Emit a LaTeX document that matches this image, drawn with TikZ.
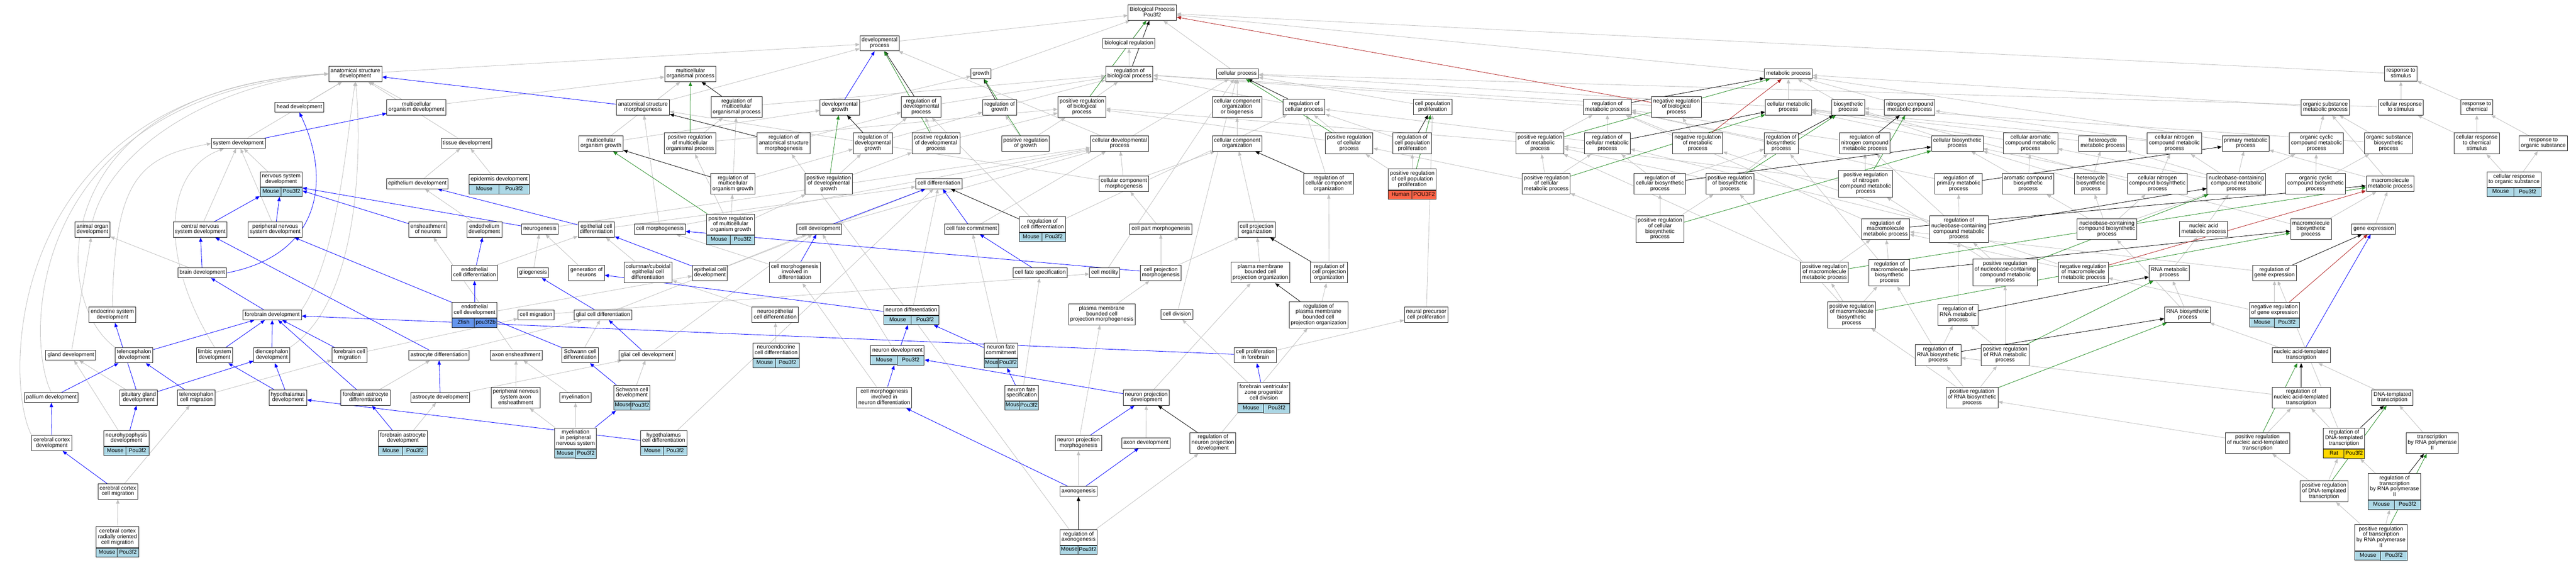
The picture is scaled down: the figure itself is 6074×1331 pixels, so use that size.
\documentclass[tikz,border=0pt]{standalone}
\usepackage{fontspec}
\setmainfont{Liberation Sans}
\usetikzlibrary{arrows.meta,calc,fit,backgrounds}
\definecolor{annmouse}{HTML}{ADD8E6}
\definecolor{annfish}{HTML}{6495ED}
\definecolor{annhuman}{HTML}{FF6347}
\definecolor{annrat}{HTML}{FFD700}
\definecolor{isagray}{HTML}{C0C0C0}
\definecolor{posgreen}{HTML}{228B22}
\definecolor{negred}{HTML}{B22222}
\newcommand{\termfont}{\fontsize{13}{13}\selectfont}
\newcommand{\orgrow}[4]{%
  \path let \p1=(#1t.south west), \p2=(#1t.south east), \n1={0.5*(\x2-\x1)} in
    node[orgbox, fill=#2, minimum width=\n1, anchor=north west] (#1s) at (\p1) {#3}
    node[orgbox, fill=#2, minimum width=\n1, anchor=north east] (#1g) at (\p2) {#4};
  \node[fit=(#1t)(#1s)(#1g), inner sep=0pt] (#1) {};}
\tikzset{
  term/.style={draw=black!85, line width=1.2pt, fill=white, align=center,
    inner xsep=4pt, inner ysep=5pt, font=\termfont,
    execute at begin node=\strut, execute at end node=\strut},
  orgbox/.style={draw=black!85, line width=1.2pt, inner xsep=2pt, inner ysep=4pt,
    font=\termfont, execute at begin node=\strut},
  edge/.style={line width=1pt, -{Triangle[length=10pt,width=8pt]}},
  isa/.style={edge, draw=isagray},
  partof/.style={edge, draw=blue},
  reg/.style={edge, draw=black},
  posreg/.style={edge, draw=posgreen},
  negreg/.style={edge, draw=negred}
}
\begin{document}
\begin{tikzpicture}[x=1pt,y=-1pt]
  \useasboundingbox (0,0) rectangle (6074,1331);
  % row 1
  \node[term] (bp) at (2717,30) {Biological Process\\Pou3f2};
  \node[term] (devproc) at (2074,102) {developmental\\process};
  \node[term] (biolreg) at (2662,102) {biological regulation};
  \node[term] (asd) at (838,174) {anatomical structure\\development};
  \node[term] (mop) at (1628,174) {multicellular\\organismal process};
  \node[term] (growth) at (2313,174) {growth};
  \node[term] (rbp) at (2663,174) {regulation of\\biological process};
  \node[term] (cellproc) at (2918,174) {cellular process};
  \node[term] (metab) at (4217,174) {metabolic process};
  \node[term] (rts) at (5661,174) {response to\\stimulus};
  % row 2
  \node[term] (head) at (706,253) {head development};
  \node[term] (mog) at (982,253) {multicellular\\organism development};
  \node[term] (asm) at (1516,253) {anatomical structure\\morphogenesis};
  \node[term] (rmop) at (1737,252) {regulation of\\multicellular\\organismal process};
  \node[term] (devgrowth) at (1980,253) {developmental\\growth};
  \node[term] (rdp) at (2172,252) {regulation of\\developmental\\process};
  \node[term] (rgrowth) at (2357,253) {regulation of\\growth};
  \node[term] (prbp) at (2551,252) {positive regulation\\of biological\\process};
  \node[term] (ccob) at (2917,252) {cellular component\\organization\\or biogenesis};
  \node[term] (rcp) at (3075,252) {regulation of\\cellular process};
  \node[term] (cpp) at (3378,252) {cell population\\proliferation};
  \node[term] (rmp) at (3790,252) {regulation of\\metabolic process};
  \node[term] (nrbp) at (3953,252) {negative regulation\\of biological\\process};
  \node[term] (cmp) at (4217,253) {cellular metabolic\\process};
  \node[term] (biosyn) at (4358,253) {biosynthetic\\process};
  \node[term] (ncmp) at (4503,253) {nitrogen compound\\metabolic process};
  \node[term] (osmp) at (5483,253) {organic substance\\metabolic process};
  \node[term] (crs) at (5661,253) {cellular response\\to stimulus};
  \node[term] (rtc) at (5840,253) {response to\\chemical};
  % row 3
  \node[term] (sysdev) at (562,338) {system development};
  \node[term] (tissue) at (1100,338) {tissue development};
  \node[term] (mogrowth) at (1417,338) {multicellular\\organism growth};
  \node[term] (prmop) at (1627,338) {positive regulation\\of multicellular\\organismal process};
  \node[term] (rasm) at (1848,338) {regulation of\\anatomical structure\\morphogenesis};
  \node[term] (rdg) at (2058,338) {regulation of\\developmental\\growth};
  \node[term] (prdp) at (2207,338) {positive regulation\\of developmental\\process};
  \node[term] (prgrowth) at (2418,338) {positive regulation\\of growth};
  \node[term] (celldevproc) at (2640,338) {cellular developmental\\process};
  \node[term] (cco) at (2917,338) {cellular component\\organization};
  \node[term] (prcp) at (3181,338) {positive regulation\\of cellular\\process};
  \node[term] (rcpp) at (3330,338) {regulation of\\cell population\\proliferation};
  \node[term] (prmp) at (3631,338) {positive regulation\\of metabolic\\process};
  \node[term] (rcmp) at (3790,338) {regulation of\\cellular metabolic\\process};
  \node[term] (nrmp) at (4003,338) {negative regulation\\of metabolic\\process};
  \node[term] (rbiosyn) at (4200,338) {regulation of\\biosynthetic\\process};
  \node[term] (rncmp) at (4397,338) {regulation of\\nitrogen compound\\metabolic process};
  \node[term] (cbp) at (4615,338) {cellular biosynthetic\\process};
  \node[term] (cacmp) at (4788,338) {cellular aromatic\\compound metabolic\\process};
  \node[term] (hetmp) at (4958,338) {heterocycle\\metabolic process};
  \node[term] (cncmp) at (5127,338) {cellular nitrogen\\compound metabolic\\process};
  \node[term] (pmp) at (5295,338) {primary metabolic\\process};
  \node[term] (occmp) at (5462,338) {organic cyclic\\compound metabolic\\process};
  \node[term] (osbp) at (5632,338) {organic substance\\biosynthetic\\process};
  \node[term] (crc) at (5840,338) {cellular response\\to chemical\\stimulus};
  \node[term] (rtos) at (5997,338) {response to\\organic substance};
  % row 4
  \node[term] (nsdt) at (663,423) {nervous system\\development};
  \orgrow{nsd}{annmouse}{Mouse}{Pou3f2}
  \node[term] (epith) at (984,433) {epithelium development};
  \node[term] (epidt) at (1177,423) {epidermis development};
  \orgrow{epid}{annmouse}{Mouse}{Pou3f2}
  \node[term] (rmog) at (1728,433) {regulation of\\multicellular\\organism growth};
  \node[term] (prdg) at (1954,433) {positive regulation\\of developmental\\growth};
  \node[term] (celldiff) at (2214,433) {cell differentiation};
  \node[term] (ccmorph) at (2650,433) {cellular component\\morphogenesis};
  \node[term] (rcco) at (3133,433) {regulation of\\cellular component\\organization};
  \node[term] (prcppt) at (3330,423) {positive regulation\\of cell population\\proliferation};
  \orgrow{prcpp}{annhuman}{Human}{POU3F2}
  \node[term] (prcmp) at (3646,433) {positive regulation\\of cellular\\metabolic process};
  \node[term] (rcbp) at (3914,433) {regulation of\\cellular biosynthetic\\process};
  \node[term] (prbiosyn) at (4079,433) {positive regulation\\of biosynthetic\\process};
  \node[term] (prncmp) at (4399,433) {positive regulation\\of nitrogen\\compound metabolic\\process};
  \node[term] (rpmp) at (4618,433) {regulation of\\primary metabolic\\process};
  \node[term] (acbp) at (4782,433) {aromatic compound\\biosynthetic\\process};
  \node[term] (hetbp) at (4930,433) {heterocycle\\biosynthetic\\process};
  \node[term] (ccbp) at (5087,433) {cellular nitrogen\\compound biosynthetic\\process};
  \node[term] (nbcmp) at (5273,433) {nucleobase-containing\\compound metabolic\\process};
  \node[term] (occbp) at (5460,433) {organic cyclic\\compound biosynthetic\\process};
  \node[term] (mmp) at (5636,433) {macromolecule\\metabolic process};
  \node[term] (crtost) at (5928,423) {cellular response\\to organic substance};
  \orgrow{crtos}{annmouse}{Mouse}{Pou3f2}
  % row 5
  \node[term] (aod) at (218,541) {animal organ\\development};
  \node[term] (cnsd) at (472,541) {central nervous\\system development};
  \node[term] (pnsd) at (649,541) {peripheral nervous\\system development};
  \node[term] (ensheath) at (1009,541) {ensheathment\\of neurons};
  \node[term] (endothelium) at (1142,541) {endothelium\\development};
  \node[term] (neurogenesis) at (1273,540) {neurogenesis};
  \node[term] (epcd) at (1406,541) {epithelial cell\\differentiation};
  \node[term] (cellmorph) at (1556,540) {cell morphogenesis};
  \node[term] (prmogt) at (1723,529) {positive regulation\\of multicellular\\organism growth};
  \orgrow{prmog}{annmouse}{Mouse}{Pou3f2}
  \node[term] (celldev) at (1932,540) {cell development};
  \node[term] (cfc) at (2291,540) {cell fate commitment};
  \node[term] (rcdt) at (2458,529) {regulation of\\cell differentiation};
  \orgrow{rcd}{annmouse}{Mouse}{Pou3f2}
  \node[term] (cpm) at (2737,540) {cell part morphogenesis};
  \node[term] (cpo) at (2963,541) {cell projection\\organization};
  \node[term] (prcbp) at (3914,540) {positive regulation\\of cellular\\biosynthetic\\process};
  \node[term] (rmmp) at (4446,540) {regulation of\\macromolecule\\metabolic process};
  \node[term] (rnbcmp) at (4619,540) {regulation of\\nucleobase-containing\\compound metabolic\\process};
  \node[term] (nbcbp) at (4968,540) {nucleobase-containing\\compound biosynthetic\\process};
  \node[term] (namp) at (5196,540) {nucleic acid\\metabolic process};
  \node[term] (mbp) at (5449,540) {macromolecule\\biosynthetic\\process};
  \node[term] (geneexp) at (5597,540) {gene expression};
  % row 6
  \node[term] (brain) at (477,643) {brain development};
  \node[term] (endocd) at (1119,643) {endothelial\\cell differentiation};
  \node[term] (glio) at (1257,643) {gliogenesis};
  \node[term] (genneur) at (1383,643) {generation of\\neurons};
  \node[term] (colepi) at (1528,642) {columnar/cuboidal\\epithelial cell\\differentiation};
  \node[term] (epcdev) at (1674,643) {epithelial cell\\development};
  \node[term] (cmind) at (1874,642) {cell morphogenesis\\involved in\\differentiation};
  \node[term] (cfs) at (2453,643) {cell fate specification};
  \node[term] (motility) at (2605,643) {cell motility};
  \node[term] (cpmorph) at (2737,643) {cell projection\\morphogenesis};
  \node[term] (pmbcpo) at (2972,642) {plasma membrane\\bounded cell\\projection organization};
  \node[term] (rcpo) at (3134,642) {regulation of\\cell projection\\organization};
  \node[term] (prmmp) at (4302,642) {positive regulation\\of macromolecule\\metabolic process};
  \node[term] (rmbp) at (4455,643) {regulation of\\macromolecule\\biosynthetic\\process};
  \node[term] (prnbcmp) at (4728,642) {positive regulation\\of nucleobase-containing\\compound metabolic\\process};
  \node[term] (nrmmp) at (4912,642) {negative regulation\\of macromolecule\\metabolic process};
  \node[term] (rnamp) at (5115,643) {RNA metabolic\\process};
  \node[term] (rge) at (5363,643) {regulation of\\gene expression};
  % row 7
  \node[term] (endocdevt) at (1119,731) {endothelial\\cell development};
  \orgrow{endocdev}{annfish}{Zfish}{pou3f2b}
  \node[term] (neurdifft) at (2149,731) {neuron differentiation};
  \orgrow{neurdiff}{annmouse}{Mouse}{Pou3f2}
  \node[term] (nrget) at (5363,731) {negative regulation\\of gene expression};
  \orgrow{nrge}{annmouse}{Mouse}{Pou3f2}
  \node[term] (endo) at (265,742) {endocrine system\\development};
  \node[term] (forebrain) at (642,742) {forebrain development};
  \node[term] (cellmig) at (1264,742) {cell migration};
  \node[term] (glialcd) at (1422,742) {glial cell differentiation};
  \node[term] (neuroepi) at (1828,742) {neuroepithelial\\cell differentiation};
  \node[term] (pmbcpm) at (2598,741) {plasma membrane\\bounded cell\\projection morphogenesis};
  \node[term] (celldiv) at (2775,741) {cell division};
  \node[term] (rpmbcpo) at (3109,742) {regulation of\\plasma membrane\\bounded cell\\projection organization};
  \node[term] (npcp) at (3363,742) {neural precursor\\cell proliferation};
  \node[term] (prmbp) at (4366,742) {positive regulation\\of macromolecule\\biosynthetic\\process};
  \node[term] (rrnamp) at (4617,742) {regulation of\\RNA metabolic\\process};
  \node[term] (rnabp) at (5158,742) {RNA biosynthetic\\process};
  % row 8
  \node[term] (neuroendot) at (1830,826) {neuroendocrine\\cell differentiation};
  \orgrow{neuroendo}{annmouse}{Mouse}{Pou3f2}
  \node[term] (neurdevt) at (2116,826) {neuron development};
  \orgrow{neurdev}{annmouse}{Mouse}{Pou3f2}
  \node[term] (nfct) at (2360,826) {neuron fate\\commitment};
  \orgrow{nfc}{annmouse}{Mouse}{Pou3f2}
  \node[term] (gland) at (167,837) {gland development};
  \node[term] (tel) at (316,837) {telencephalon\\development};
  \node[term] (limbic) at (506,837) {limbic system\\development};
  \node[term] (dien) at (641,837) {diencephalon\\development};
  \node[term] (fbcm) at (824,837) {forebrain cell\\migration};
  \node[term] (astrodiff) at (1035,837) {astrocyte differentiation};
  \node[term] (axonens) at (1217,837) {axon ensheathment};
  \node[term] (schwdiff) at (1368,837) {Schwann cell\\differentiation};
  \node[term] (glialdev) at (1526,837) {glial cell development};
  \node[term] (cpfb) at (2960,837) {cell proliferation\\in forebrain};
  \node[term] (rrnabp) at (4570,837) {regulation of\\RNA biosynthetic\\process};
  \node[term] (prrnamp) at (4728,837) {positive regulation\\of RNA metabolic\\process};
  \node[term] (natt) at (5426,837) {nucleic acid-templated\\transcription};
  % row 9
  \node[term] (schwdevt) at (1490,926) {Schwann cell\\development};
  \orgrow{schwdev}{annmouse}{Mouse}{Pou3f2}
  \node[term] (nfst) at (2409,926) {neuron fate\\specification};
  \orgrow{nfs}{annmouse}{Mouse}{Pou3f2}
  \node[term] (fvzpcdt) at (2980,926) {forebrain ventricular\\zone progenitor\\cell division};
  \orgrow{fvzpcd}{annmouse}{Mouse}{Pou3f2}
  \node[term] (pallium) at (121,937) {pallium development};
  \node[term] (pit) at (327,937) {pituitary gland\\development};
  \node[term] (telcm) at (463,937) {telencephalon\\cell migration};
  \node[term] (hypo) at (679,937) {hypothalamus\\development};
  \node[term] (fbad) at (862,937) {forebrain astrocyte\\differentiation};
  \node[term] (astrodev) at (1038,937) {astrocyte development};
  \node[term] (pnsaxon) at (1216,937) {peripheral nervous\\system axon\\ensheathment};
  \node[term] (myel) at (1357,937) {myelination};
  \node[term] (cmnd) at (2085,937) {cell morphogenesis\\involved in\\neuron differentiation};
  \node[term] (npd) at (2703,937) {neuron projection\\development};
  \node[term] (prrnabp) at (4650,937) {positive regulation\\of RNA biosynthetic\\process};
  \node[term] (rnatt) at (5426,937) {regulation of\\nucleic acid-templated\\transcription};
  \node[term] (dtt) at (5641,937) {DNA-templated\\transcription};
  % row 10
  \node[term] (neurohypt) at (298,1033) {neurohypophysis\\development};
  \orgrow{neurohyp}{annmouse}{Mouse}{Pou3f2}
  \node[term] (fbastdevt) at (950,1033) {forebrain astrocyte\\development};
  \orgrow{fbastdev}{annmouse}{Mouse}{Pou3f2}
  \node[term] (mypnst) at (1357,1033) {myelination\\in peripheral\\nervous system};
  \orgrow{mypns}{annmouse}{Mouse}{Pou3f2}
  \node[term] (hypocdt) at (1565,1033) {hypothalamus\\cell differentiation};
  \orgrow{hypocd}{annmouse}{Mouse}{Pou3f2}
  \node[term] (rdttt) at (5527,1033) {regulation of\\DNA-templated\\transcription};
  \orgrow{rdtt}{annrat}{Rat}{Pou3f2}
  \node[term] (ccd) at (122,1044) {cerebral cortex\\development};
  \node[term] (npm) at (2543,1044) {neuron projection\\morphogenesis};
  \node[term] (axondev) at (2702,1044) {axon development};
  \node[term] (rnpd) at (2860,1044) {regulation of\\neuron projection\\development};
  \node[term] (prnatt) at (5323,1044) {positive regulation\\of nucleic acid-templated\\transcription};
  \node[term] (trp2) at (5735,1044) {transcription\\by RNA polymerase\\II};
  % rows 11-12
  \node[term] (rtrp2t) at (5646,1147) {regulation of\\transcription\\by RNA polymerase\\II};
  \orgrow{rtrp2}{annmouse}{Mouse}{Pou3f2}
  \node[term] (cccm) at (278,1158) {cerebral cortex\\cell migration};
  \node[term] (axonogenesis) at (2543,1158) {axonogenesis};
  \node[term] (prdtt) at (5480,1158) {positive regulation\\of DNA-templated\\transcription};
  \node[term] (ccrocmt) at (277,1266) {cerebral cortex\\radially oriented\\cell migration};
  \orgrow{ccrocm}{annmouse}{Mouse}{Pou3f2}
  \node[term] (raxont) at (2543,1266) {regulation of\\axonogenesis};
  \orgrow{raxon}{annmouse}{Mouse}{Pou3f2}
  \node[term] (prtrp2t) at (5614,1267) {positive regulation\\of transcription\\by RNA polymerase\\II};
  \orgrow{prtrp2}{annmouse}{Mouse}{Pou3f2}
  \begin{scope}[on background layer]
    \fill[white] (0,0) rectangle (6074,1331);
    \draw[isa] (ccd.north west) .. controls (7,900) and (7,215) .. (asd.west);
    \draw[isa] (pallium.north) .. controls (58,800) and (58,230) .. (asd.west);
    \draw[isa] (tel.north west) .. controls (110,700) and (120,205) .. (asd.west);
    \draw[isa] (aod.north) .. controls (260,350) and (500,200) .. (asd.west);
    \draw[isa] (endo.north) .. controls (270,420) and (330,370) .. (sysdev.west);
    \draw[isa] (limbic.north) .. controls (370,600) and (390,400) .. (sysdev);
    \draw[isa] (dien.north east) .. controls (862,700) and (850,300) .. (asd.south);
    \draw[isa] (forebrain.north east) .. controls (800,600) and (820,300) .. (asd.south);
    \draw[partof] (brain.east) .. controls (760,600) and (780,420) .. (head.south);
    \foreach \a/\b in {asd/devproc, head/asd, mog/asd, mog/mop, sysdev/asd, nsd/sysdev,
      cnsd/sysdev, pnsd/sysdev, brain/aod, epith/tissue, axonens/ensheath,
      fbcm/cellmig, telcm/fbcm, astrodiff/glialcd, pit/gland, fbad/astrodiff,
      astrodev/glialdev, neurohyp/gland, fbastdev/astrodev, cccm/telcm, gland/aod,
      ccrocm/cccm, tissue/asd, mogrowth/mop, mogrowth/devgrowth, asm/devproc, epid/tissue,
      endothelium/epith, neurogenesis/celldevproc, epcd/celldiff, cellmorph/asm,
      cellmorph/celldevproc, celldiff/celldevproc, celldev/celldevproc, cfc/celldevproc,
      glio/neurogenesis, genneur/neurogenesis, colepi/epcd, epcdev/celldev, cmind/cellmorph,
      endocd/epcd, endocdev/epcdev, cellmig/motility, glialcd/celldiff, schwdiff/glialcd,
      glialdev/celldev, neuroepi/colepi, neuroendo/neuroepi, pnsaxon/axonens, myel/axonens,
      schwdev/glialdev, mypns/myel, mypns/pnsaxon, hypocd/celldiff, neurdiff/celldiff,
      neurdev/celldev, nfc/cfc, nfs/cfs, pmbcpm/cpmorph, celldiv/cellproc, cpfb/npcp,
      fvzpcd/celldiv, cmnd/cmind, npd/pmbcpo, npm/pmbcpm, axondev/npd, rnpd/rpmbcpo,
      axonogenesis/npm, raxon/rnpd, raxon/rasm,
      rmop/rbp, prmop/rmop, prmop/prbp, rmog/rmop, rasm/rdp, rmog/rdg, prmog/rmog,
      prmog/prdg, prmog/prmop, prdg/rdg, prdg/prdp, devgrowth/growth, devproc/bp,
      biolreg/bp, growth/bp, rbp/biolreg, cellproc/bp, rdp/rbp, rgrowth/rbp, prbp/rbp,
      ccob/cellproc, rdg/rdp, rdg/rgrowth, prdp/rdp, prdp/prbp, prgrowth/rgrowth,
      prgrowth/prbp, celldevproc/devproc, celldevproc/cellproc, cco/ccob, ccmorph/cco,
      ccmorph/celldevproc, ccmorph/asm, rcd/rdp, rcd/rcp, cpm/ccmorph, cpo/cco,
      motility/cellproc, cpmorph/cpm, cpmorph/cpo, pmbcpo/cpo, rcp/rbp, cpp/cellproc,
      rmp/rbp, nrbp/rbp, prcp/rcp, prcp/prbp, rcpp/rcp, prmp/rmp, prmp/prbp, rcmp/rmp,
      rcmp/rcp, nrmp/rmp, nrmp/nrbp, rcco/rcp, prcpp/rcpp, prcpp/prcp, prcmp/prmp,
      prcmp/rcmp, prcmp/prcp, rcbp/rcmp, rcbp/rbiosyn, prbiosyn/rbiosyn, prbiosyn/prmp,
      prcbp/rcbp, prcbp/prcmp, prcbp/prbiosyn, rcpo/rcco, rpmbcpo/rcpo, npcp/cpp,
      metab/bp, cmp/metab, cmp/cellproc, biosyn/metab, ncmp/metab, rbiosyn/rmp, rncmp/rmp,
      cbp/biosyn, cbp/cmp, cacmp/cmp, hetmp/cmp, prncmp/rncmp, prncmp/prmp, rpmp/rmp,
      acbp/cacmp, acbp/cbp, hetbp/hetmp, hetbp/cbp, ccbp/cncmp, ccbp/cbp, rmmp/rmp,
      rnbcmp/rpmp, rnbcmp/rncmp, rnbcmp/rcmp, nbcbp/nbcmp, nbcbp/hetbp, nbcbp/acbp,
      nbcbp/ccbp, prmmp/rmmp, prmmp/prmp, rmbp/rmmp, rmbp/rbiosyn, prnbcmp/rnbcmp,
      prnbcmp/prncmp, nrmmp/rmmp, nrmmp/nrmp, prmbp/prmmp, prmbp/rmbp, prmbp/prbiosyn,
      rrnamp/rnbcmp, rrnabp/rrnamp, rrnabp/rmbp, prrnamp/rrnamp, prrnamp/prnbcmp,
      prrnabp/rrnabp, prrnabp/prrnamp, prrnabp/prmbp,
      rts/bp, osmp/metab, crs/rts, crs/cellproc, rtc/rts, cncmp/ncmp, cncmp/cmp, pmp/metab,
      occmp/osmp, osbp/osmp, osbp/biosyn, crc/crs, crc/rtc, rtos/rtc, nbcmp/cncmp,
      nbcmp/pmp, nbcmp/occmp, nbcmp/hetmp, nbcmp/cacmp, occbp/occmp, occbp/osbp,
      mmp/osmp, mmp/pmp, crtos/crc, crtos/rtos, namp/nbcmp, mbp/mmp, mbp/biosyn,
      geneexp/mmp, rnamp/namp, rge/rmmp, rnabp/rnamp, rnabp/nbcbp, nrge/rge, nrge/nrmmp,
      natt/rnabp, rnatt/rrnabp, dtt/natt, prnatt/rnatt, prnatt/prrnabp, rdtt/rnatt,
      rdtt/rge, trp2/dtt, prdtt/prnatt, prdtt/rdtt, rtrp2/rdtt, prtrp2/rtrp2, prtrp2/prdtt}
      \draw[isa] (\a) -- (\b);
    \foreach \a/\b in {sysdev/mog, cnsd/nsd, pnsd/nsd, ensheath/nsd,
      neurogenesis/nsd, asm/asd, forebrain/brain, brain/cnsd, astrodiff/cnsd,
      schwdiff/pnsd, cpfb/forebrain, neurdiff/genneur, glialdev/glialcd, glialcd/glio,
      schwdev/schwdiff, mypns/schwdev, hypocd/hypo, endocd/endothelium, endocdev/endocd,
      astrodev/astrodiff, epcdev/epcd, epcd/epith, celldev/celldiff, cmind/celldev,
      cpmorph/cellmorph, devgrowth/devproc, neurdev/neurdiff, nfc/neurdiff, cmnd/neurdev,
      npd/neurdev, nfs/nfc, npm/npd, axonogenesis/cmnd, axonogenesis/axondev,
      fvzpcd/cpfb, cfs/cfc, cfc/celldiff, natt/geneexp, tel/forebrain, limbic/forebrain,
      dien/forebrain, fbcm/forebrain, fbad/forebrain, pallium/tel, telcm/tel, pit/endo,
      pit/dien, hypo/limbic, hypo/dien, neurohyp/pit, fbastdev/fbad, ccd/pallium, cccm/ccd}
      \draw[partof] (\a) -- (\b);
    \foreach \a/\b in {rmop/mop, rasm/asm, rmog/mogrowth, rdg/devgrowth, rdp/devproc,
      rgrowth/growth, rbp/bp, rcd/celldiff, rcp/cellproc, rcco/cco, rcpo/cpo,
      rpmbcpo/pmbcpo, rcpp/cpp, rnpd/npd, raxon/axonogenesis, rmp/metab, rcmp/cmp,
      rbiosyn/biosyn, rncmp/ncmp, rcbp/cbp, rpmp/pmp, rmmp/mmp, rnbcmp/nbcmp, rmbp/mbp,
      rrnamp/rnamp, rrnabp/rnabp, rge/geneexp, rnatt/natt, rdtt/dtt, rtrp2/trp2}
      \draw[reg] (\a) -- (\b);
    \foreach \a/\b in {prmop/mop, prmog/mogrowth, prdg/devgrowth, prdp/devproc,
      prgrowth/growth, prbp/bp, prcp/cellproc, prcpp/cpp, prmp/metab, prcmp/cmp,
      prbiosyn/biosyn, prncmp/ncmp, prcbp/cbp, prmmp/mmp, prnbcmp/nbcmp, prmbp/mbp,
      prrnamp/rnamp, prrnabp/rnabp, prnatt/natt, prdtt/dtt, prtrp2/trp2}
      \draw[posreg] (\a) -- (\b);
    \foreach \a/\b in {nrbp/bp, nrmp/metab, nrmmp/mmp, nrge/geneexp}
      \draw[negreg] (\a) -- (\b);
  \end{scope}
\end{tikzpicture}
\end{document}
